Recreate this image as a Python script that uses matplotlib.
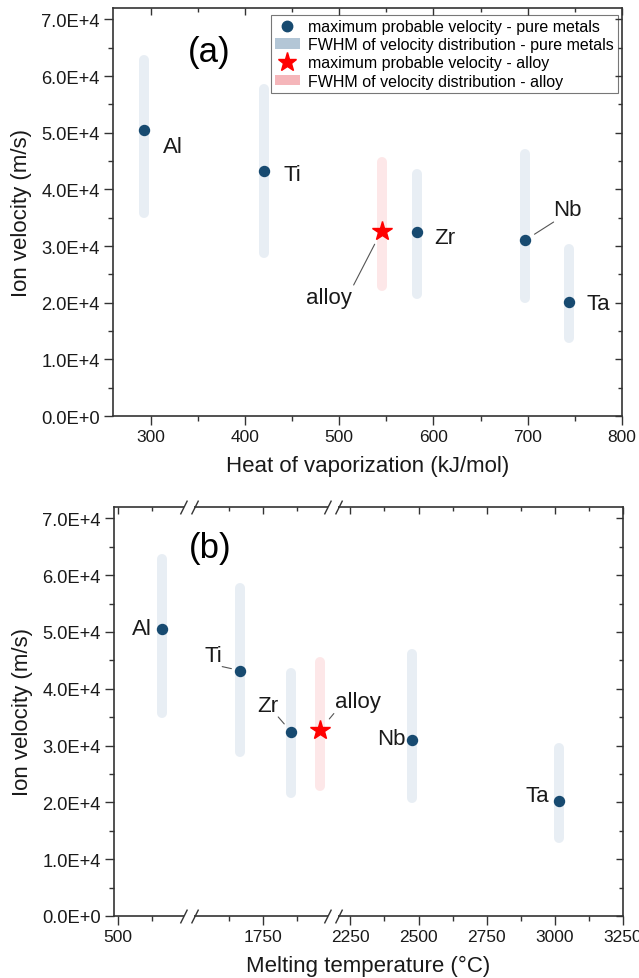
import numpy as np
import matplotlib
matplotlib.use("Agg")
import matplotlib.pyplot as plt
from matplotlib.lines import Line2D
from matplotlib.patches import Patch
from matplotlib.path import Path
from matplotlib.ticker import FixedLocator, MultipleLocator, FuncFormatter

plt.rcParams['font.family'] = ['Liberation Sans', 'DejaVu Sans']

# ---- data ----
metals = ["Al", "Ti", "Zr", "Nb", "Ta"]
heat_vap = [293, 420, 582, 697, 744]            # kJ/mol
melt_temp = [660, 1668, 1855, 2477, 3017]       # degC
v_peak = [50500, 43200, 32400, 31000, 20200]    # m/s
fwhm_low = [35800, 28800, 21600, 20750, 13700]
fwhm_high = [62800, 57700, 42700, 46200, 29550]

alloy_heat = 545
alloy_melt = 1960
alloy_peak = 32700
alloy_low = 22900
alloy_high = 44750

melt_ticks = [500, 1750, 2250, 2500, 2750, 3000, 3250]
melt_minor = [625, 1625, 1875, 2375, 2625, 2875, 3125]

# broken melting-temperature axis: data breakpoints -> compressed coordinate
brk_data = [-1e5, 759, 1480, 2009, 2188, 1e5]
brk_map = [-1e5, 759, 760, 1289, 1290, 1e5 - 898]

PT_COL = '#174a70'
BAR_COL = '#e8eef4'
BAR_LEG = '#b3c6d6'
ALLOY_BAR = '#fde7e8'
ALLOY_LEG = '#f5b6ba'
TXT = '#1a1a1a'
SPINE = '#333333'


def sci_fmt(v, pos):
    if v == 0:
        return "0.0E+0"
    e = int(np.floor(np.log10(abs(v))))
    return f"{v / 10**e:.1f}E+{e}"


def style_axes(ax, fig):
    for s in ax.spines.values():
        s.set_color(SPINE)
        s.set_linewidth(1.2)
    ax.set_ylim(0, 72000)
    ax.yaxis.set_major_locator(MultipleLocator(10000))
    ax.yaxis.set_minor_locator(MultipleLocator(5000))
    ax.yaxis.set_major_formatter(FuncFormatter(sci_fmt))
    ax.tick_params(which='both', direction='out', colors=SPINE, labelcolor=TXT,
                   labelsize=12.5, width=1.0)
    ax.tick_params(axis='y', labelsize=13.2)
    ax.tick_params(which='major', length=6.5, pad=3)
    ax.tick_params(which='minor', length=3.5)
    ax.set_ylabel("Ion velocity (m/s)", fontsize=16, color=TXT)
    ax.yaxis.set_label_coords(-0.16, 0.5)
    # inward ticks on top / right
    ax2 = fig.add_axes(ax.get_position(), sharex=ax, sharey=ax, frameon=False)
    ax2.tick_params(which='both', direction='in', top=True, right=True,
                    bottom=False, left=False, labelbottom=False,
                    labelleft=False, colors=SPINE, width=1.0)
    ax2.tick_params(which='major', length=5)
    ax2.tick_params(which='minor', length=3)
    ax2.patch.set_visible(False)
    return ax2


def draw_points(ax, xs, xa):
    ax.vlines(xs, fwhm_low, fwhm_high, colors=BAR_COL, linewidth=7.2,
              capstyle='round', zorder=1)
    ax.vlines([xa], [alloy_low], [alloy_high], colors=ALLOY_BAR, linewidth=7.2,
              capstyle='round', zorder=1)
    ax.plot(xs, v_peak, 'o', color=PT_COL, ms=7.2, zorder=3)
    ax.plot([xa], [alloy_peak], '*', color='red', ms=15, mec='red', zorder=3)


def label(ax, text, xy, off, ha):
    ax.annotate(text, xy=xy, xytext=off, textcoords='offset pixels',
                ha=ha, va='center', fontsize=16, color=TXT)


def leader(ax, xy, p0, p1):
    ax.annotate("", xy=xy, xycoords='data', xytext=p1, textcoords='offset pixels',
                arrowprops=dict(arrowstyle='-', color='#555555', lw=0.8,
                                shrinkA=0,
                                shrinkB=np.hypot(*p0) * 0.72))


fig = plt.figure(figsize=(6.39, 9.79), dpi=100)

# ---------------- (a) heat of vaporization ----------------
axa = fig.add_axes([113 / 639, 1 - 417 / 979, 509 / 639, 408 / 979])
draw_points(axa, heat_vap, alloy_heat)
axa.set_xlim(260, 800)
axa.xaxis.set_major_locator(MultipleLocator(100))
axa.xaxis.set_minor_locator(MultipleLocator(50))
style_axes(axa, fig)
axa.set_xlabel("Heat of vaporization (kJ/mol)", fontsize=16, color=TXT)
axa.xaxis.set_label_coords(0.5, -0.095)

offs_a = {"Al": (19, -17), "Ti": (20, -3), "Zr": (18, -5), "Nb": (28, 31), "Ta": (17, -2)}
for m, x, v in zip(metals, heat_vap, v_peak):
    label(axa, m, (x, v), offs_a[m], 'left')
leader(axa, (heat_vap[3], v_peak[3]), (8.7, 7.3), (28.7, 18.3))
label(axa, "alloy", (alloy_heat, alloy_peak), (-53, -67), 'center')
leader(axa, (alloy_heat, alloy_peak), (-9, -12.3), (-28, -54.3))
axa.text(0.189, 0.893, "(a)", transform=axa.transAxes, fontsize=25,
         ha='center', va='center', color='black')

handles = [Line2D([], [], ls='none', marker='o', color=PT_COL, ms=7.5),
           Patch(facecolor=BAR_LEG, edgecolor='none'),
           Line2D([], [], ls='none', marker='*', color='red', ms=14),
           Patch(facecolor=ALLOY_LEG, edgecolor='none')]
labels = ["maximum probable velocity - pure metals",
          "FWHM of velocity distribution - pure metals",
          "maximum probable velocity - alloy",
          "FWHM of velocity distribution - alloy"]
leg = axa.legend(handles, labels, loc='upper right',
                 bbox_to_anchor=(0.992, 0.983), borderaxespad=0,
                 fontsize=11.5, frameon=True, fancybox=False, edgecolor='#555555',
                 handlelength=1.6, handleheight=0.6, handletextpad=0.5,
                 labelspacing=0.2, borderpad=0.25)
leg.get_frame().set_linewidth(0.8)
leg.set_zorder(10)

# ---------------- (b) melting temperature ----------------
axb = fig.add_axes([114 / 639, 1 - 917 / 979, 509 / 639, 409 / 979])
fwd = lambda x: np.interp(x, brk_data, brk_map)
inv = lambda x: np.interp(x, brk_map, brk_data)
axb.set_xscale('function', functions=(fwd, inv))
draw_points(axb, melt_temp, alloy_melt)
axb.set_xlim(485, 3250)
axb.xaxis.set_major_locator(FixedLocator(melt_ticks))
axb.xaxis.set_minor_locator(FixedLocator(melt_minor))
axb.set_xticklabels([str(t) for t in melt_ticks])
style_axes(axb, fig)
axb.set_xlabel("Melting temperature (\u00b0C)", fontsize=16, color=TXT)
axb.xaxis.set_label_coords(0.5, -0.095)

offs_b = {"Al": (-10, 1), "Ti": (-18, 15), "Zr": (-13, 26), "Nb": (-7, 1), "Ta": (-10, 6)}
for m, x, v in zip(metals, melt_temp, v_peak):
    label(axb, m, (x, v), offs_b[m], 'right')
leader(axb, (melt_temp[1], v_peak[1]), (-9, 1), (-18, 4))
leader(axb, (melt_temp[2], v_peak[2]), (-7, 8), (-13, 15))
label(axb, "alloy", (alloy_melt, alloy_peak), (15, 29), 'left')
leader(axb, (alloy_melt, alloy_peak), (9, 11.7), (14, 16.7))
axb.text(0.189, 0.9, "(b)", transform=axb.transAxes, fontsize=25,
         ha='center', va='center', color='black')

# axis-break marks "//" on top and bottom spines
slash = Path([(-1.3, -1), (-0.3, 1), (0.3, -1), (1.3, 1)],
             [Path.MOVETO, Path.LINETO, Path.MOVETO, Path.LINETO])
for bx in (759.5, 2100):
    for yy in (0, 1):
        axb.plot([bx], [yy], transform=axb.get_xaxis_transform(), marker='_',
                 ms=7, mew=4, color='white', clip_on=False, zorder=20)
        axb.plot([bx], [yy], transform=axb.get_xaxis_transform(), marker=slash,
                 ms=13, mew=1.0, mfc='none', mec=SPINE, clip_on=False, zorder=21)

fig.savefig("out.png", dpi=100)
